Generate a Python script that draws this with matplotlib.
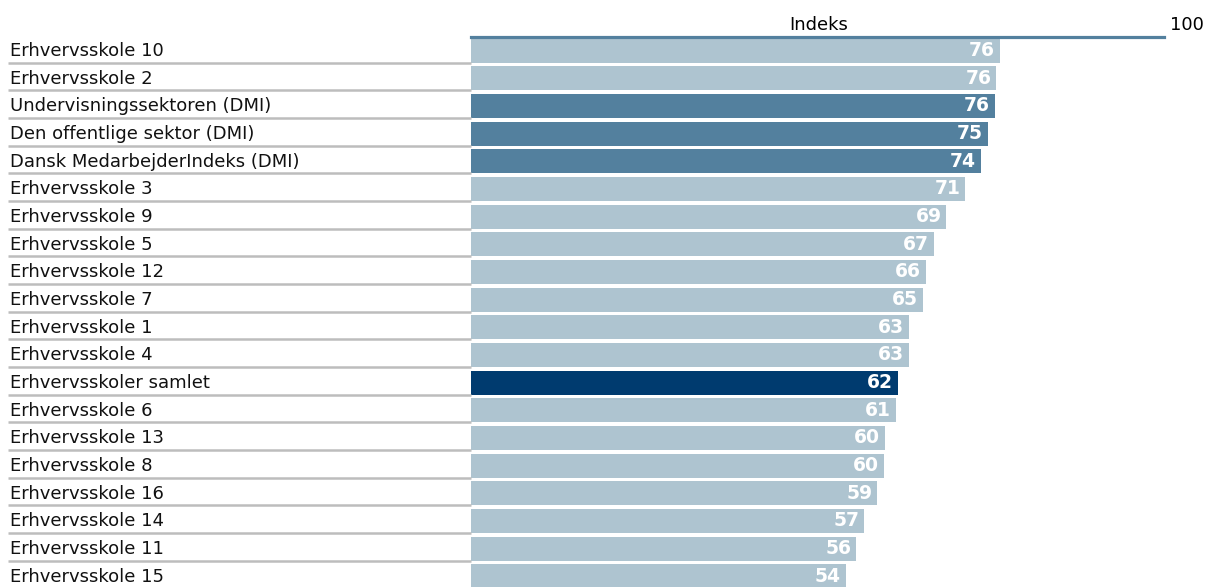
import matplotlib.pyplot as plt
from matplotlib.transforms import blended_transform_factory

# Medarbejderindeks per skole, sorteret efter indeks
names = ["Erhvervsskole 10", "Erhvervsskole 2", "Undervisningssektoren (DMI)",
         "Den offentlige sektor (DMI)", "Dansk MedarbejderIndeks (DMI)",
         "Erhvervsskole 3", "Erhvervsskole 9", "Erhvervsskole 5", "Erhvervsskole 12",
         "Erhvervsskole 7", "Erhvervsskole 1", "Erhvervsskole 4", "Erhvervsskoler samlet",
         "Erhvervsskole 6", "Erhvervsskole 13", "Erhvervsskole 8", "Erhvervsskole 16",
         "Erhvervsskole 14", "Erhvervsskole 11", "Erhvervsskole 15"]
index = [76.3, 75.8, 75.6, 74.6, 73.6, 71.3, 68.6, 66.8, 65.6, 65.2,
         63.2, 63.2, 61.6, 61.3, 59.7, 59.6, 58.6, 56.7, 55.6, 54.1]
groups = ["skole", "skole", "dmi", "dmi", "dmi", "skole", "skole", "skole", "skole", "skole",
          "skole", "skole", "samlet", "skole", "skole", "skole", "skole", "skole", "skole", "skole"]

palette = {"skole": "#aec4d0", "dmi": "#53809e", "samlet": "#003b6f"}
line_blue = "#53809e"

plt.rcParams["font.family"] = ["DejaVu Sans"]

fig = plt.figure(figsize=(12.07, 5.87), dpi=100)
ax = fig.add_axes([471 / 1207, -0.0053, (1164 - 471) / 1207, 553.4 / 587])

rows = list(range(len(names)))
ax.barh(rows, index, height=0.87, color=[palette[g] for g in groups], left=0)

for i, v in zip(rows, index):
    ax.annotate(f"{v:.0f}", xy=(v, i), xytext=(-3.5, 0), textcoords="offset points",
                ha="right", va="center", color="white", fontweight="bold", fontsize=13.5)

ax.set_xlim(0, 100)
ax.set_ylim(len(names) - 0.5, -0.5)
ax.set_xticks([])
ax.set_yticks([])
for side in ["left", "right", "bottom"]:
    ax.spines[side].set_visible(False)
ax.spines["top"].set_color(line_blue)
ax.spines["top"].set_linewidth(2.3)

# navne til venstre med grå skillelinjer
trans = blended_transform_factory(fig.transFigure, ax.transData)
for i, name in zip(rows, names):
    ax.text(10 / 1207, i + 0.02, name, transform=trans, ha="left", va="center",
            fontsize=13, color="#111111")
    ax.plot([7.5 / 1207, 470.5 / 1207], [i + 0.44, i + 0.44], transform=trans,
            color="#bdbdbd", lw=1.8, clip_on=False, solid_capstyle="butt")

ax.annotate("Indeks", xy=(0.5, 1), xycoords="axes fraction", xytext=(1, 8.5),
            textcoords="offset points", ha="center", va="center", fontsize=13)
ax.annotate("100", xy=(1, 1), xycoords="axes fraction", xytext=(4.5, 8.5),
            textcoords="offset points", ha="left", va="center", fontsize=13)

fig.savefig("out.png", dpi=100)
